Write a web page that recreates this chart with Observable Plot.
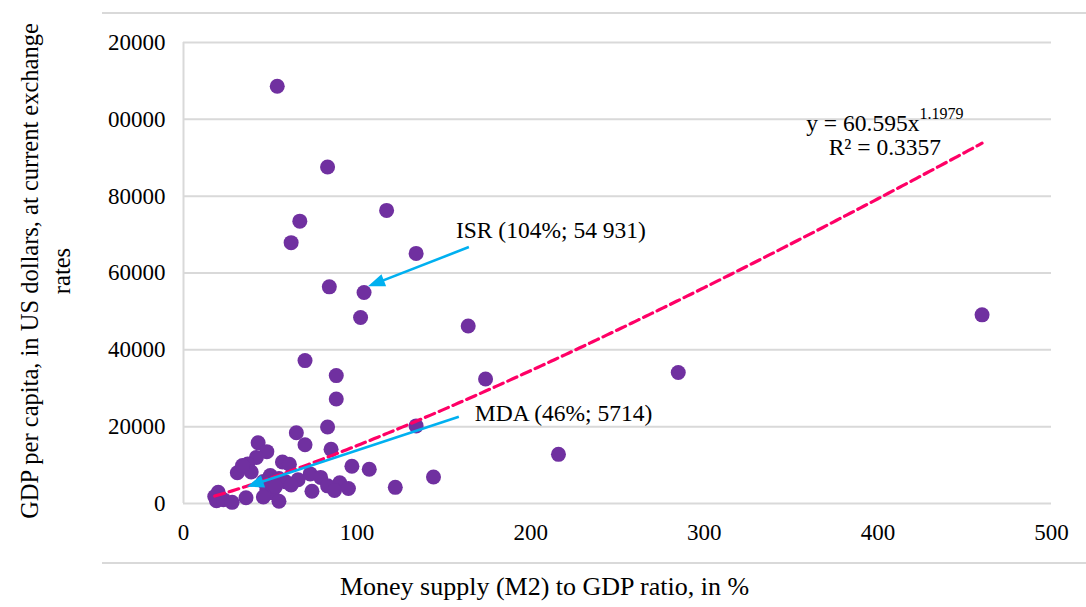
<!DOCTYPE html>
<html>
<head>
<meta charset="utf-8">
<script src="https://cdn.jsdelivr.net/npm/d3@7"></script>
<script src="https://cdn.jsdelivr.net/npm/@observablehq/plot@0.6"></script>
<style>
  body { margin: 0; background: #fff; }
  #wrap { position: relative; width: 1086px; height: 607px; }
  #frame { position: absolute; left: 102px; top: 12px; width: 984px; height: 548px;
           border-top: 2px solid #d9d9d9; border-bottom: 2px solid #d9d9d9; }
  #wrap svg { position: absolute; left: 0; top: 0; }
</style>
</head>
<body>
<div id="wrap"><div id="frame"></div></div>
<script>
// Money supply (M2) to GDP ratio, % — one value per country
const m2Ratio = [
  54, 83, 67, 62, 117, 134, 84, 104, 102, 164, 460,
  70, 88, 88, 174, 285, 65, 83, 134, 216, 144, 122,
  43, 70, 85, 48, 42, 37, 57, 61, 31, 39, 97, 107,
  50, 55, 73, 79, 46, 59, 66, 90, 83, 95, 87, 74,
  48, 51, 20, 18, 19, 23, 28, 36, 46, 55, 53, 62, 34
];
// GDP per capita, US dollars at current exchange rates
const gdpPerCapita = [
  108600, 87600, 73500, 67900, 76300, 65100, 56400, 54931, 48400, 46200, 49100,
  37200, 33300, 27200, 32400, 34100, 18400, 19900, 20200, 12800, 6900, 4200,
  15800, 15300, 14100, 13500, 12000, 10300, 10800, 10200, 8000, 8200, 9700, 8900,
  7300, 6500, 7700, 6800, 5714, 5600, 6200, 5400, 4600, 3900, 3400, 3200,
  3600, 2800, 2900, 1800, 700, 1000, 300, 1500, 1700, 600, 4400, 4800, 9900
];

// Power trend line y = a·x^b
const trendA = 60.595;
const trendB = 1.1979;
const trendRange = [18, 460];

// Tick values
const xTicks = [0, 100, 200, 300, 400, 500];
const yTicks = [0, 20000, 40000, 60000, 80000, 100000, 120000];

// Callout arrows (tail → head) and their labels
const calloutText = ["ISR (104%; 54 931)", "MDA (46%; 5714)"];
const calloutLabelX = [156.9, 167.8];
const calloutLabelY = [71170, 23380];
const arrowX1 = [164.4, 158.6];
const arrowY1 = [66750, 22600];
const arrowX2 = [108.4, 38.7];
const arrowY2 = [56900, 4700];

const points = m2Ratio.map((x, i) => ({x, y: gdpPerCapita[i]}));
const trend = d3.range(trendRange[0], trendRange[1] + 0.5, 2)
  .map(x => ({x, y: trendA * Math.pow(x, trendB)}));
const callouts = calloutText.map((text, i) => ({
  text, lx: calloutLabelX[i], ly: calloutLabelY[i],
  x1: arrowX1[i], y1: arrowY1[i], x2: arrowX2[i], y2: arrowY2[i]
}));

const serif = '"Liberation Serif", "Times New Roman", serif';
const grid = "#d9d9d9";
const labelSize = 23.5;

const plot = Plot.plot({
  width: 1086,
  height: 607,
  marginLeft: 183,
  marginRight: 35,
  marginTop: 42,
  marginBottom: 104,
  style: {fontFamily: serif, fontSize: "23px", color: "#000", background: "transparent", overflow: "visible"},
  x: {domain: [0, 500], ticks: xTicks, tickSize: 0, tickPadding: 20, tickFormat: d => String(d), label: null},
  y: {domain: [0, 120000], ticks: yTicks, tickSize: 0, tickPadding: 18,
      tickFormat: d => String(d).slice(-5), label: null},
  marks: [
    Plot.ruleY(yTicks, {stroke: grid, strokeWidth: 2}),
    Plot.ruleX([0], {stroke: grid, strokeWidth: 2}),
    Plot.dot(points, {x: "x", y: "y", r: 7.5, fill: "#7030A0", stroke: null}),
    Plot.line(trend, {x: "x", y: "y", stroke: "#FF0066", strokeWidth: 3.2, strokeDasharray: "10,5"}),
    Plot.link(callouts, {x1: "x1", y1: "y1", x2: "x2", y2: "y2",
      stroke: "#00B0F0", strokeWidth: 2.6, markerEnd: "arrow"}),
    Plot.text(callouts, {x: "lx", y: "ly", text: "text", textAnchor: "start", fontSize: labelSize, fill: "#000"}),
    // Trend equation and R²
    Plot.text(["y = 60.595x"], {x: 423.9, y: 99040, textAnchor: "end", fontSize: labelSize, fill: "#000"}),
    Plot.text(["1.1979"], {x: 423.9, y: 99040, textAnchor: "start", dy: -9, fontSize: 16, fill: "#000"}),
    Plot.text(["R² = 0.3357"], {x: 404, y: 92550, textAnchor: "middle", fontSize: labelSize, fill: "#000"}),
    // Axis titles
    Plot.text(["GDP per capita, in US dollars, at current exchange\nrates"], {
      frameAnchor: "left", rotate: -90, dx: -140, dy: -2, lineHeight: 1.32,
      textAnchor: "middle", fontSize: 24.5, fill: "#000"}),
    Plot.text(["Money supply (M2) to GDP ratio, in %"], {
      frameAnchor: "bottom", dx: -73, dy: 91, textAnchor: "middle", fontSize: 26, fill: "#000"})
  ]
});

// Filled triangular arrowheads for the callouts
d3.select(plot).selectAll("marker")
  .attr("markerUnits", "userSpaceOnUse")
  .attr("markerWidth", 10)
  .attr("markerHeight", 10)
  .attr("viewBox", "-5 -5 10 10")
  .attr("fill", "#00B0F0")
  .attr("stroke", "none")
  .attr("overflow", "visible")
  .select("path")
  .attr("d", "M-13,-6.5L4,0L-13,6.5Z");

document.getElementById("wrap").appendChild(plot);
</script>
</body>
</html>
